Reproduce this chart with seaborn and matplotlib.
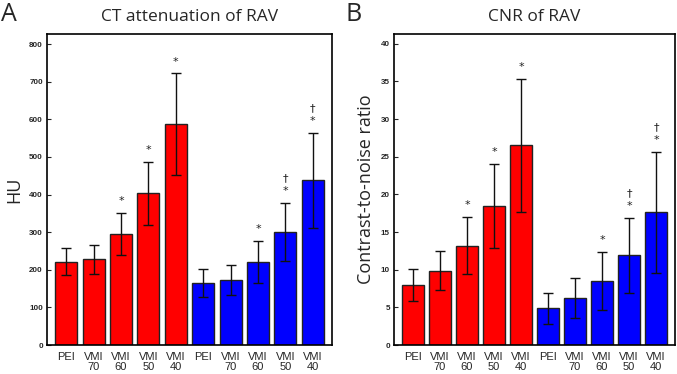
import numpy as np
import pandas as pd
import seaborn as sns
import matplotlib.pyplot as plt

# x categories (two groups of five)
labels = ["PEI", "VMI\n70", "VMI\n60", "VMI\n50", "VMI\n40",
          "PEI", "VMI\n70", "VMI\n60", "VMI\n50", "VMI\n40"]
groups = ["red"] * 5 + ["blue"] * 5

# panel A: CT attenuation (HU), mean and SD
hu_mean = [222, 228, 295, 403, 587, 166, 172, 220, 300, 438]
hu_sd = [36, 38, 55, 84, 135, 37, 40, 56, 77, 126]

# panel B: CNR, mean and SD
cnr_mean = [8.0, 9.85, 13.2, 18.5, 26.5, 4.85, 6.2, 8.5, 11.9, 17.6]
cnr_sd = [2.1, 2.6, 3.8, 5.6, 8.8, 2.05, 2.65, 3.8, 5.0, 8.05]

# significance marks above each bar
marks = ["", "", "*", "*", "*", "", "", "*", "\u2020\n*", "\u2020\n*"]

sns.set_style("ticks")
plt.rcParams["font.family"] = ["Liberation Sans", "DejaVu Sans"]

fig = plt.figure(figsize=(6.77, 3.74), dpi=100)
ax_a = fig.add_axes([0.0694, 0.0775, 0.4210, 0.8316])
ax_b = fig.add_axes([0.5820, 0.0775, 0.4150, 0.8316])

palette = {"red": "#ff0000", "blue": "#0000ff"}


def panel(ax, mean, sd, ymax, step, title, ylabel, letter, letter_x):
    df = pd.DataFrame({"pos": [str(i) for i in range(len(labels))],
                       "group": groups, "value": mean})
    sns.barplot(data=df, x="pos", y="value", hue="group", palette=palette,
                saturation=1, dodge=False, width=0.8, edgecolor="#222222",
                linewidth=1.0, errorbar=None, legend=False, ax=ax)
    x = np.arange(len(labels))
    ax.errorbar(x, mean, yerr=sd, fmt="none", ecolor="#111111",
                elinewidth=1.0, capsize=3.3, capthick=1.0)
    for xi, m, s, t in zip(x, mean, sd, marks):
        if t:
            ax.annotate(t, (xi, m + s), xytext=(0, 5), textcoords="offset points",
                        ha="center", va="bottom", fontsize=8, linespacing=1.35,
                        family="DejaVu Sans", color="#222222")
    ax.set_xlim(-0.7, 9.7)
    ax.set_ylim(0, ymax)
    ax.set_yticks(np.arange(0, ymax, step))
    ax.set_xticks(x)
    ax.set_xticklabels(labels, fontsize=8, linespacing=1.05)
    ax.tick_params(axis="x", length=0, pad=5)
    ax.tick_params(axis="y", direction="in", length=3, width=0.8, labelsize=5.8, pad=3)
    for lab in ax.get_yticklabels():
        lab.set_fontweight("bold")
    for sp in ax.spines.values():
        sp.set_visible(True)
        sp.set_linewidth(1.2)
        sp.set_color("black")
    ax.set_xlabel("")
    ax.set_ylabel(ylabel, fontsize=13, family="Open Sans", labelpad=4)
    ax.set_title(title, fontsize=12.5, family="Open Sans", pad=9)
    fig.text(letter_x, 0.995, letter, fontsize=18, family="Open Sans", va="top", ha="left")


panel(ax_a, hu_mean, hu_sd, 827, 100, "CT attenuation of RAV", "HU", "A", 0.002)
panel(ax_b, cnr_mean, cnr_sd, 41.3, 5, "CNR of RAV", "Contrast-to-noise ratio", "B", 0.511)

fig.savefig("out.png", dpi=100)
